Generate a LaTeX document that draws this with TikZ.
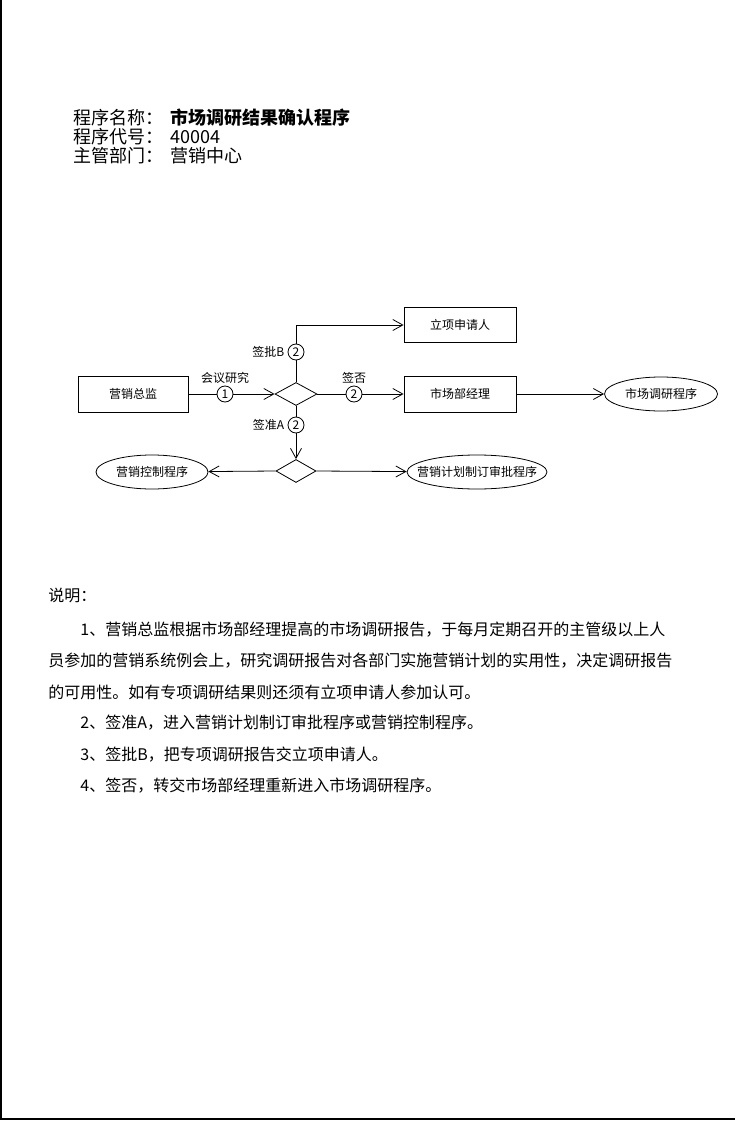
\documentclass[tikz,border=0pt]{standalone}
\usepackage{fontspec}
\setmainfont{Noto Sans CJK SC}
\usetikzlibrary{arrows.meta,positioning,shapes.geometric}

\begin{document}
\begin{tikzpicture}[x=1pt,y=-1pt,>={Straight Barb[length=10pt,width=11pt]},line width=0.8pt,
  every node/.style={font=\fontsize{12}{14}\selectfont,inner sep=1pt},
  unit/.style={draw,minimum width=112pt,minimum height=36pt},
  proc/.style={draw,ellipse,minimum height=34pt,inner sep=0pt},
  gate/.style={draw,diamond,minimum width=42pt,minimum height=23pt,inner sep=0pt},
  numcirc/.style={draw,circle,minimum size=16pt,inner sep=0pt},
  head/.style={anchor=west,inner sep=0pt,font=\fontsize{18}{20}\selectfont},
  body/.style={anchor=west,inner sep=0pt,font=\fontsize{16}{18}\selectfont}]
\useasboundingbox (0,0) rectangle (735,1121);
\draw[line width=1.5pt] (1,0) -- (1,1119) -- (735,1119);

\node[head] (t1) at (73,118) {程序名称：};
\node[head] (t2) at (73,137) {程序代号：};
\node[head] (t3) at (73,156) {主管部门：};
\node[head,font=\fontsize{18}{20}\selectfont\bfseries] (v1) at (170,118) {市场调研结果确认程序};
\node[head] (v2) at (170,137) {40004};
\node[head] (v3) at (170,156) {营销中心};

\node[unit,minimum width=110pt] (ctrl) at (133,394) {营销总监};
\node[numcirc] (c1) at (225,394) {1};
\node[above=1pt of c1] (l1) {会议研究};
\node[gate] (d1) at (296,394) {};
\node[numcirc] (c2b) at (296,352) {2};
\node[left=2pt of c2b] (lb) {签批B};
\node[unit,minimum height=35pt] (apply) at (460,325) {立项申请人};
\node[numcirc] (c2n) at (354,394) {2};
\node[above=1pt of c2n] (ln) {签否};
\node[unit] (mgr) at (460,394) {市场部经理};
\node[proc,minimum width=113pt] (res) at (661,394) {市场调研程序};
\node[numcirc] (c2a) at (296,425) {2};
\node[left=2pt of c2a] (la) {签准A};
\node[gate,minimum width=40pt] (d2) at (296,471) {};
\node[proc,minimum width=112pt] (ctl) at (152,472) {营销控制程序};
\node[proc,minimum width=140pt,inner xsep=-20pt] (plan) at (477,472) {营销计划制订审批程序};

\draw (ctrl) -- (c1);
\draw[->] (c1) -- (d1.west);
\draw (d1.north) -- (c2b);
\draw[->] (c2b.north) |- (apply.west);
\draw (d1.east) -- (c2n);
\draw[->] (c2n) -- (mgr);
\draw[->] (mgr) -- (res);
\draw (d1.south) -- (c2a);
\draw[->] (c2a) -- (d2.north);
\draw[->] (d2.west) -- (ctl);
\draw[->] (d2.east) -- (plan);

\node[body] (n0) at (48,595) {说明：};
\node[body] (n1) at (80,630) {1、营销总监根据市场部经理提高的市场调研报告，于每月定期召开的主管级以上人};
\node[body] (n1b) at (48,661) {员参加的营销系统例会上，研究调研报告对各部门实施营销计划的实用性，决定调研报告};
\node[body] (n1c) at (48,692) {的可用性。如有专项调研结果则还须有立项申请人参加认可。};
\node[body] (n2) at (80,723) {2、签准A，进入营销计划制订审批程序或营销控制程序。};
\node[body] (n3) at (80,755) {3、签批B，把专项调研报告交立项申请人。};
\node[body] (n4) at (80,786) {4、签否，转交市场部经理重新进入市场调研程序。};
\end{tikzpicture}
\end{document}
